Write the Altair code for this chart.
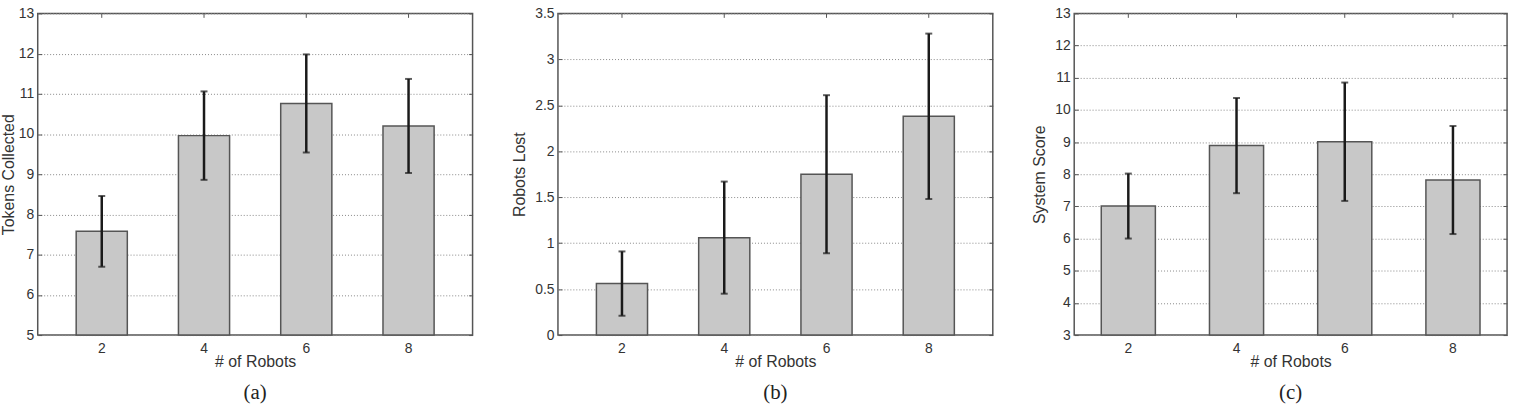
import altair as alt
import pandas as pd

robots = [2, 4, 6, 8]
tokens_mean = [7.58, 9.96, 10.76, 10.20]
tokens_err = [0.88, 1.10, 1.22, 1.17]
lost_mean = [0.56, 1.06, 1.75, 2.38]
lost_err = [0.35, 0.61, 0.86, 0.90]
score_mean = [7.01, 8.89, 9.01, 7.82]
score_err = [1.01, 1.48, 1.84, 1.68]

tokens_ticks = [5, 6, 7, 8, 9, 10, 11, 12, 13]
lost_ticks = [0, 0.5, 1, 1.5, 2, 2.5, 3, 3.5]
score_ticks = [3, 4, 5, 6, 7, 8, 9, 10, 11, 12, 13]

SANS = "Liberation Sans"
SERIF = "Liberation Serif"
XT = "# of Robots"
TK = 4  # inward tick length


def panel(mean, err, ytitle, caption, domain, ticks, pad_outer, title_x, width):
    df = pd.DataFrame({"robots": robots, "mean": mean, "err": err})
    df["lo"] = df["mean"] - df["err"]
    df["hi"] = df["mean"] + df["err"]
    xscale = alt.Scale(paddingInner=0.5, paddingOuter=pad_outer)
    yscale = alt.Scale(domain=domain, nice=False, zero=False)
    xaxis = alt.Axis(labelAngle=0, ticks=False, tickSize=0, domain=False,
                     labelPadding=7, titleY=27, titleBaseline="middle", grid=False)
    yaxis = alt.Axis(values=ticks, format="~g", grid=True, gridDash=[1, 2],
                     gridColor="#888", gridWidth=1, ticks=True, tickSize=TK,
                     tickColor="#555", offset=-TK, domain=False, labelPadding=4,
                     titleX=title_x - TK, titleBaseline="middle",
                     labelOverlap=False)
    x_empty = alt.Axis(labels=False, ticks=False, domain=False, grid=False,
                       title=None, values=robots)
    y_empty = alt.Axis(labels=False, ticks=False, domain=False, grid=False,
                       title=None, values=ticks)
    xaxis_top = alt.Axis(orient="top", offset=-TK, ticks=True, tickSize=TK,
                         tickColor="#555", labels=False, domain=False,
                         title=None, grid=False)
    yaxis_right = alt.Axis(orient="right", offset=-TK, values=ticks, ticks=True,
                           tickSize=TK, tickColor="#555", labels=False,
                           domain=False, title=None, grid=False)
    base = alt.Chart(df)
    bars = base.mark_bar(fill="#c8c8c8", stroke="#555", strokeWidth=1.5).encode(
        x=alt.X("robots:O", title=XT, scale=xscale, axis=xaxis),
        y=alt.Y("mean:Q", title=ytitle, scale=yscale, axis=yaxis),
        y2=alt.datum(domain[0]),
    )
    rules = base.mark_rule(color="#1a1a1a", strokeWidth=2.5).encode(
        x=alt.X("robots:O", scale=xscale, axis=x_empty),
        y=alt.Y("lo:Q", scale=yscale, axis=y_empty),
        y2="hi:Q",
    )
    cap_lo = base.mark_tick(color="#1a1a1a", thickness=2, size=7).encode(
        x=alt.X("robots:O", scale=xscale, axis=x_empty),
        y=alt.Y("lo:Q", scale=yscale, axis=y_empty),
    )
    cap_hi = base.mark_tick(color="#1a1a1a", thickness=2, size=7).encode(
        x=alt.X("robots:O", scale=xscale, axis=xaxis_top),
        y=alt.Y("hi:Q", scale=yscale, axis=yaxis_right),
    )
    return (
        alt.layer(bars, rules, cap_lo, cap_hi)
        .resolve_axis(x="independent", y="independent")
        .properties(
            width=width,
            height=324,
            title=alt.TitleParams(caption, orient="bottom", font=SERIF, fontSize=21,
                                  fontWeight="normal", color="#222", offset=12),
        )
    )


a = panel(tokens_mean, tokens_err, "Tokens Collected", "(a)", [5, 13], tokens_ticks, 0.376, -29, 438)
b = panel(lost_mean, lost_err, "Robots Lost", "(b)", [0, 3.5], lost_ticks, 0.376, -38.5, 438)
c = panel(score_mean, score_err, "System Score", "(c)", [3, 13], score_ticks, 0.25, -34.5, 436)

chart = (
    alt.hconcat(a, b, c, spacing=36)
    .properties(padding={"left": 0, "top": 4, "right": 7, "bottom": 4},
                background="white")
    .configure_view(stroke="#555", strokeWidth=1.5)
    .configure_axis(labelFont=SANS, labelFontSize=14, labelColor="#333",
                    titleFont=SANS, titleFontSize=16, titleColor="#333",
                    titleFontWeight="normal")
)

chart.save("out.html", embed_options={"renderer": "svg", "actions": False})
